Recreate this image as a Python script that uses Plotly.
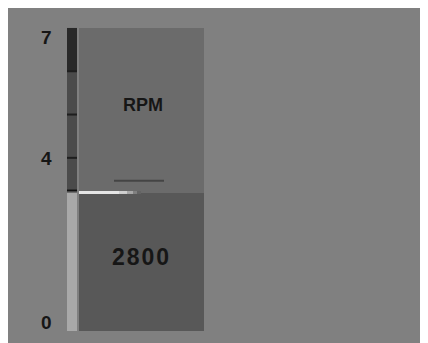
import plotly.graph_objects as go

# values (scale in thousands of rpm)
tick_vals = [0, 4, 7]
tick_text = ["0", "4", "7"]
minor_ticks = [4, 5, 6]
scale_max = 7
red_zone = 6
fill_level = 3.2
target_level = 3.47
rpm_value = 2800
unit_label = "RPM"

BG = "#808080"
TEXT = "#161616"

fig = go.Figure()

# thin scale bar at the left
bar_x, bar_w = 72, 10
fig.add_trace(go.Bar(x=[bar_x], y=[fill_level], base=[0], width=[bar_w],
                     marker=dict(color="#a9a9a9", line=dict(width=0)), hoverinfo="skip"))
fig.add_trace(go.Bar(x=[bar_x], y=[red_zone - fill_level], base=[fill_level], width=[bar_w],
                     marker=dict(color="#4b4b4b", line=dict(width=0)), hoverinfo="skip"))
fig.add_trace(go.Bar(x=[bar_x], y=[scale_max - red_zone], base=[red_zone], width=[bar_w],
                     marker=dict(color="#292929", line=dict(width=0)), hoverinfo="skip"))

# main panel
pan_x, pan_w = 141.5, 125
fig.add_trace(go.Bar(x=[pan_x], y=[fill_level], base=[0], width=[pan_w],
                     marker=dict(color="#585858", line=dict(width=0)), hoverinfo="skip"))
fig.add_trace(go.Bar(x=[pan_x], y=[scale_max - fill_level], base=[fill_level], width=[pan_w],
                     marker=dict(color="#6b6b6b", line=dict(width=0)), hoverinfo="skip"))

# tick marks on the thin bar
for t in minor_ticks:
    fig.add_trace(go.Scatter(x=[bar_x - bar_w / 2, bar_x + bar_w / 2], y=[t, t], mode="lines",
                             line=dict(color="#1e1e1e", width=2), hoverinfo="skip"))
# level line on the thin bar
fig.add_trace(go.Scatter(x=[bar_x - bar_w / 2, bar_x + bar_w / 2], y=[fill_level + 0.05] * 2,
                         mode="lines", line=dict(color="#111111", width=1.5), hoverinfo="skip"))

# highlight at the fill level, fading to the right
shades = ["#e6e6e6", "#d0d0d0", "#a8a8a8", "#808080", "#646464"]
x0 = pan_x - pan_w / 2
steps = [0, 40, 48, 54, 58, 62]
for i, c in enumerate(shades):
    fig.add_trace(go.Scatter(x=[x0 + steps[i], x0 + steps[i + 1]], y=[fill_level] * 2, mode="lines",
                             line=dict(color=c, width=3), hoverinfo="skip"))

# target marker
fig.add_trace(go.Scatter(x=[114, 164], y=[target_level] * 2, mode="lines",
                         line=dict(color="#444444", width=2), hoverinfo="skip"))

# tick labels
anchors = {0: "bottom", 4: "middle", 7: "top"}
shifts = {0: -4, 4: -1, 7: 3}
for v, t in zip(tick_vals, tick_text):
    fig.add_annotation(x=54, y=v, text="<b>%s</b>" % t, showarrow=False, xanchor="right",
                       yanchor=anchors[v], yshift=shifts[v],
                       font=dict(family="Liberation Sans", size=19, color=TEXT))

fig.add_annotation(x=143, y=5.22, text="<b>%s</b>" % unit_label, showarrow=False,
                   font=dict(family="Liberation Sans", size=18, color=TEXT))
fig.add_annotation(x=140.5, y=1.72, text="<b>%s</b>" % "\u200a".join("%d" % rpm_value),
                   showarrow=False, font=dict(family="Liberation Sans", size=23, color=TEXT))

fig.update_layout(
    width=428, height=343,
    margin=dict(l=0, r=0, t=0, b=0),
    paper_bgcolor=BG, plot_bgcolor=BG,
    showlegend=False, barmode="overlay",
    xaxis=dict(range=[8, 436], visible=False, fixedrange=True),
    yaxis=dict(range=[-0.462, 7.461], visible=False, fixedrange=True),
)

fig.write_html("out.html")
